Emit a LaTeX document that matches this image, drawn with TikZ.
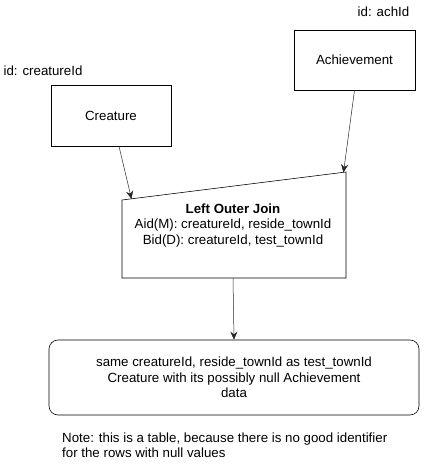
\documentclass[tikz,border=0pt]{standalone}
\usepackage{fontspec}
\setmainfont{Liberation Sans}
\usetikzlibrary{arrows.meta}
\begin{document}
\begin{tikzpicture}[x=1pt,y=-1pt,
  every node/.style={font=\fontsize{13.3}{15.5}\selectfont, inner sep=0pt},
  box/.style={draw=black, line width=0.6pt},
  conn/.style={draw=black!85, line width=0.5pt, -{Stealth[length=8pt,width=7pt]}},
  lbl/.style={anchor=center}]
\useasboundingbox (0,0) rectangle (425,469);
% Creature
\node[box, minimum width=120pt, minimum height=61pt] (creature) at (111,115.5) {Creature};
\node[lbl] (cid) at (43,71) {id: creatureId};
% Achievement
\node[box, minimum width=121pt, minimum height=60pt] (ach) at (354.5,60) {Achievement};
\node[lbl] (aid) at (383.5,12) {id: achId};
% join (manual input shape)
\draw[box] (122,200) coordinate (jtl) -- (346,172) coordinate (jtr) -- (346,278) coordinate (jbr) -- (122,278) coordinate (jbl) -- cycle;
\coordinate (jtop1) at (131.5,199);
\coordinate (jtop2) at (343.5,172.5);
\coordinate (jbot) at (233,278);
\node[align=center] (join) at (233,225.5) {\textbf{Left Outer Join}\\Aid(M): creatureId, reside\_townId\\Bid(D): creatureId, test\_townId};
% result
\node[box, rounded corners=9pt, minimum width=370pt, minimum height=75pt, align=center] (res) at (234,377.5) {same creatureId, reside\_townId as test\_townId\\Creature with its possibly null Achievement\\data};
% note
\node[anchor=west, align=left] (note) at (62,445) {Note: this is a table, because there is no good identifier\\for the rows with null values};
% connectors
\draw[conn] (creature.south) ++(8,0) coordinate (cs) -- (jtop1);
\draw[conn] ([xshift=0pt]ach.south) coordinate (as) -- (jtop2);
\draw[conn] (jbot) -- (res.north);
\end{tikzpicture}
\end{document}
